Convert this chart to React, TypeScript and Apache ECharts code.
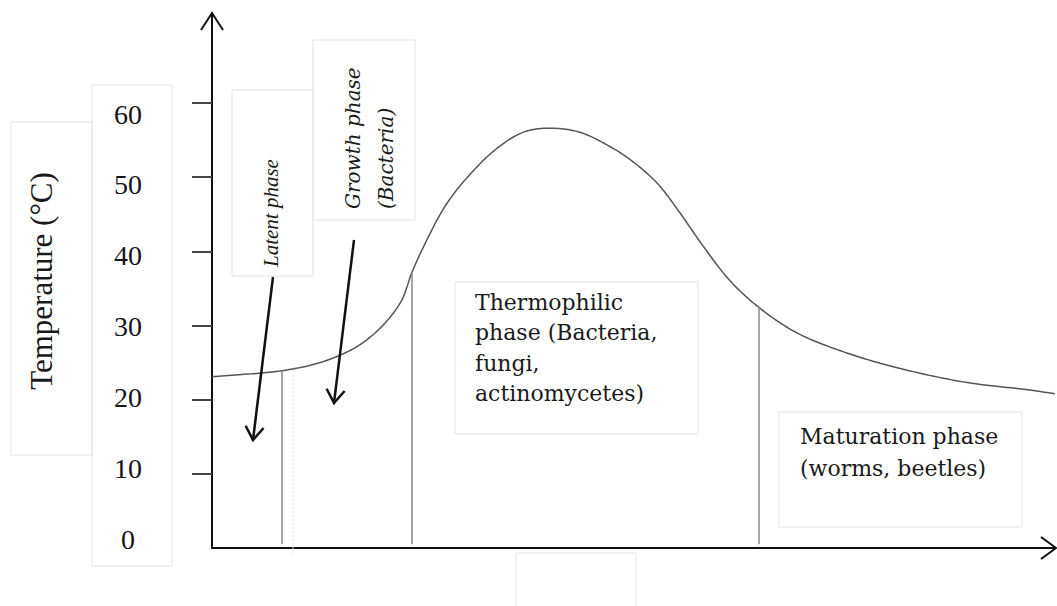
import React, { useEffect, useRef } from "react";
import * as echarts from "echarts";

// Composting time (arbitrary units, 0-100) and temperature (°C)
const timeValues = [0, 5.9, 8.3, 11.9, 15.2, 17.8, 20.5, 22.5, 23.7, 25.3, 27.6, 30.0, 33.6, 36.8, 39.5, 43.5, 47.4, 49.8, 52.8, 55.5, 58.2, 61.4, 64.8, 69.4, 75.3, 81.3, 89.1, 97.0, 100];
const temperatures = [23.1, 23.6, 23.9, 24.7, 26.0, 27.6, 30.3, 33.4, 37.1, 41.1, 46.0, 49.6, 53.7, 56.0, 56.6, 56.1, 54.0, 52.2, 49.2, 45.2, 40.8, 36.1, 32.5, 29.0, 26.3, 24.3, 22.4, 21.3, 20.8];
// phase boundaries (index into the series above)
const boundaryIndices = [2, 8, 22];
const yTickValues = [0, 10, 20, 30, 40, 50, 60];
const yTickMarks = [10, 20, 30, 40, 50, 60];
const yTitle = "Temperature (°C)";
const latentLabel = "Latent phase";
const growthLabel = ["Growth phase", "(Bacteria)"];
const thermoLabel = ["Thermophilic", "phase (Bacteria,", "fungi,", "actinomycetes)"];
const maturationLabel = ["Maturation phase", "(worms, beetles)"];

function arrowHead(x1: number, y1: number, x2: number, y2: number, len = 16, ang = 0.6) {
  const a = Math.atan2(y2 - y1, x2 - x1);
  return [
    [x2 - len * Math.cos(a - ang), y2 - len * Math.sin(a - ang)],
    [x2, y2],
    [x2 - len * Math.cos(a + ang), y2 - len * Math.sin(a + ang)],
  ];
}

// centripetal Catmull-Rom through pixel points (rendering only)
function splinePoints(pts: number[][], steps = 16) {
  const n = pts.length;
  const out: number[][] = [];
  const get = (i: number) => {
    if (i < 0) return [2 * pts[0][0] - pts[1][0], 2 * pts[0][1] - pts[1][1]];
    if (i >= n) return [2 * pts[n - 1][0] - pts[n - 2][0], 2 * pts[n - 1][1] - pts[n - 2][1]];
    return pts[i];
  };
  const lerp = (a: number[], b: number[], ta: number, tb: number, t: number) => {
    const d = tb - ta || 1e-6;
    return [((tb - t) / d) * a[0] + ((t - ta) / d) * b[0], ((tb - t) / d) * a[1] + ((t - ta) / d) * b[1]];
  };
  for (let i = 0; i < n - 1; i++) {
    const p0 = get(i - 1), p1 = get(i), p2 = get(i + 1), p3 = get(i + 2);
    const dist = (a: number[], b: number[]) => Math.pow(Math.hypot(b[0] - a[0], b[1] - a[1]), 0.5) || 1e-3;
    const t0 = 0, t1 = t0 + dist(p0, p1), t2 = t1 + dist(p1, p2), t3 = t2 + dist(p2, p3);
    for (let s = 0; s < steps; s++) {
      const t = t1 + ((t2 - t1) * s) / steps;
      const a1 = lerp(p0, p1, t0, t1, t);
      const a2 = lerp(p1, p2, t1, t2, t);
      const a3 = lerp(p2, p3, t2, t3, t);
      const b1 = lerp(a1, a2, t0, t2, t);
      const b2 = lerp(a2, a3, t1, t3, t);
      out.push(lerp(b1, b2, t1, t2, t));
    }
  }
  out.push(pts[n - 1]);
  return out;
}

const boxStroke = "#e2e2e2";
const rect = (x: number, y: number, w: number, h: number) => ({
  type: "rect",
  z: 0,
  shape: { x, y, width: w, height: h },
  style: { fill: "none", stroke: boxStroke, lineWidth: 1 },
});
const line = (x1: number, y1: number, x2: number, y2: number, stroke: string, lineWidth: number, extra: any = {}) => ({
  type: "line",
  z: 5,
  shape: { x1, y1, x2, y2 },
  style: { stroke, lineWidth, ...extra },
});
const poly = (points: number[][], stroke: string, lineWidth: number) => ({
  type: "polyline",
  z: 5,
  shape: { points },
  style: { stroke, lineWidth, fill: "none" },
});
const vText = (text: string, x: number, y: number, font: string) => ({
  type: "text",
  z: 6,
  x,
  y,
  rotation: Math.PI / 2,
  style: { text, x: 0, y: 0, textAlign: "left", textVerticalAlign: "middle", font, fill: "#1a1a1a" },
});

export default function App() {
  const ref = useRef<HTMLDivElement>(null);
  useEffect(() => {
    if (!ref.current) return;
    const chart = echarts.init(ref.current, undefined, { renderer: "svg" });
    const data = timeValues.map((t, i) => [t, temperatures[i]]);
    const latent = [273, 277, 253, 440];
    const growth = [354, 240, 334, 403];
    chart.setOption({
      animation: false,
      backgroundColor: "#ffffff",
      grid: { left: 212, right: 2, top: 14, bottom: 58, containLabel: false },
      xAxis: {
        type: "value",
        min: 0,
        max: 100,
        axisLine: { show: true, lineStyle: { color: "#111", width: 2 } },
        axisTick: { show: false },
        axisLabel: { show: false },
        splitLine: { show: false },
      },
      yAxis: [
        {
          type: "value",
          min: 0,
          max: 72,
          axisLine: { show: true, lineStyle: { color: "#111", width: 2 } },
          axisTick: { show: true, length: 20, customValues: yTickMarks, lineStyle: { color: "#444", width: 2 } },
          axisLabel: { show: false },
          splitLine: { show: false },
        },
        {
          type: "value",
          position: "left",
          min: -1.27,
          max: 74.12,
          axisLine: { show: false },
          axisTick: { show: false },
          splitLine: { show: false },
          axisLabel: {
            show: true,
            customValues: yTickValues,
            margin: 84,
            align: "center",
            fontFamily: "Liberation Serif",
            fontSize: 28,
            color: "#151515",
          },
          name: yTitle,
          nameLocation: "middle",
          nameRotate: 90,
          nameGap: 155,
          nameTextStyle: { fontFamily: "Liberation Serif", fontSize: 31, color: "#1a1a1a" },
        },
      ],
      series: [
        {
          type: "custom",
          name: "Temperature",
          coordinateSystem: "cartesian2d",
          data,
          encode: { x: 0, y: 1 },
          z: 3,
          renderItem: (params: any, api: any) => {
            if (params.dataIndex !== 0) return null;
            const pts = data.map((d) => api.coord(d));
            return {
              type: "polyline",
              shape: { points: splinePoints(pts) },
              style: { stroke: "#555", lineWidth: 1.5, fill: "none" },
            };
          },
          markLine: {
            silent: true,
            symbol: "none",
            label: { show: false },
            lineStyle: { color: "#8a8a8a", width: 1.5, type: "solid" },
            data: boundaryIndices.map((i) => [
              { coord: [timeValues[i], 0.5] },
              { coord: [timeValues[i], temperatures[i]] },
            ]),
          },
        },
      ],
      graphic: [
        // boxes
        rect(11, 122, 81, 333),
        rect(92, 85, 80, 481),
        rect(232, 90, 81, 186),
        rect(313, 40, 102, 180),
        rect(455, 282, 243, 152),
        rect(779, 412, 243, 115),
        rect(516, 553, 120, 60),
        line(293, 375, 293, 556, "#e4e4e4", 1, { lineDash: [2, 2] }),
        // axis arrowheads
        poly([[201, 30], [212, 13], [223, 30]], "#111", 2),
        poly([[1041, 537], [1056, 548], [1041, 559]], "#111", 2),
        // annotation arrows
        line(latent[0], latent[1], latent[2], latent[3], "#111", 2.5),
        poly(arrowHead(latent[0], latent[1], latent[2], latent[3]), "#111", 2.5),
        line(growth[0], growth[1], growth[2], growth[3], "#111", 2.5),
        poly(arrowHead(growth[0], growth[1], growth[2], growth[3]), "#111", 2.5),
        // texts
        vText(latentLabel, 271, 267, "italic 21px 'Liberation Serif'"),
        vText(growthLabel[0], 353, 209, "italic 20px 'DejaVu Serif'"),
        vText(growthLabel[1], 386, 209, "italic 20px 'DejaVu Serif'"),
        {
          type: "text",
          z: 6,
          x: 475,
          y: 287,
          style: {
            text: thermoLabel.join("\n"),
            x: 0,
            y: 0,
            textAlign: "left",
            textVerticalAlign: "top",
            font: "22px 'DejaVu Serif'",
            lineHeight: 30.5,
            fill: "#1a1a1a",
          },
        },
        {
          type: "text",
          z: 6,
          x: 800,
          y: 420,
          style: {
            text: maturationLabel.join("\n"),
            x: 0,
            y: 0,
            textAlign: "left",
            textVerticalAlign: "top",
            font: "22px 'DejaVu Serif'",
            lineHeight: 32,
            fill: "#1a1a1a",
          },
        },
      ],
    });
    return () => chart.dispose();
  }, []);
  return <div ref={ref} style={{ position: "absolute", left: 0, top: 0, width: 1057, height: 606 }} />;
}
